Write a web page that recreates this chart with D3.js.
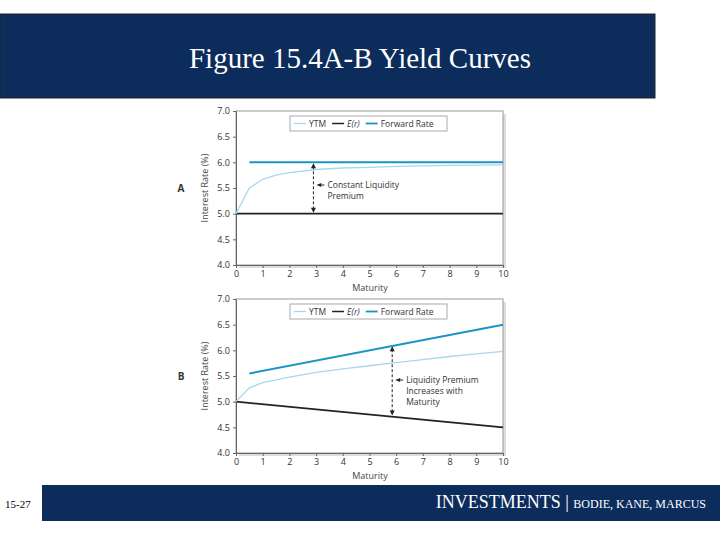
<!DOCTYPE html><html><head><meta charset="utf-8">
<script src="https://cdn.jsdelivr.net/npm/d3@7"></script>
<style>body{margin:0;background:#fff}svg{display:block}</style></head><body>
<svg id="c" width="720" height="540"></svg>
<script>
const xTicks=[0,1,2,3,4,5,6,7,8,9,10];
const yTicks=[4.0,4.5,5.0,5.5,6.0,6.5,7.0];
const aYtmX=[0,0.5,1,1.5,2,3,4,5,6,8,10];
const aYtm=[5.0,5.5,5.67,5.75,5.8,5.86,5.89,5.9,5.92,5.94,5.95];
const aFwdX=[0.5,10], aFwd=[6.0,6.0];
const aErX=[0,10], aEr=[5.0,5.0];
const bYtmX=[0,0.5,1,2,3,4,5,6,7,8,9,10];
const bYtm=[5.0,5.27,5.37,5.48,5.57,5.64,5.7,5.76,5.82,5.88,5.93,5.98];
const bFwdX=[0.5,10], bFwd=[5.55,6.5];
const bErX=[0,10], bEr=[5.0,4.5];
const svg=d3.select("#c");
svg.append("rect").attr("x",0).attr("y",14).attr("width",655).attr("height",84).attr("fill","#0c2c5c").attr("stroke","#222");
svg.append("text").attr("x",360).attr("y",68).attr("text-anchor","middle").attr("fill","#fff").attr("font-family","Liberation Serif,serif").attr("font-size",29).text("Figure 15.4A-B Yield Curves");
svg.append("rect").attr("x",42).attr("y",485).attr("width",678).attr("height",36).attr("fill","#0c2c5c");
svg.append("text").attr("x",5).attr("y",508).attr("font-family","Liberation Serif,serif").attr("font-size",11).text("15-27");
const ft=svg.append("text").attr("x",706).attr("y",508).attr("text-anchor","end").attr("fill","#fff").attr("font-family","Liberation Serif,serif");
ft.append("tspan").attr("font-size",18).text("INVESTMENTS | ");
ft.append("tspan").attr("font-size",12).text("BODIE, KANE, MARCUS");
const F="Open Sans,DejaVu Sans,sans-serif";
function panel(top,label,yx,yv,fx,fv,ex,ev,arr,ann){
  const x=d3.scaleLinear().domain([0,10]).range([236,503]);
  const y=d3.scaleLinear().domain([4,7]).range([top+154,top]);
  const g=svg.append("g");
  g.append("rect").attr("x",x(0)+3).attr("y",y(7)+3).attr("width",267).attr("height",154).attr("fill","#ddd");
  g.append("rect").attr("x",x(0)).attr("y",y(7)).attr("width",267).attr("height",154).attr("fill","#fff").attr("stroke","#999");
  g.append("g").attr("transform",`translate(0,${y(4)})`).call(d3.axisBottom(x).tickValues(xTicks).tickSize(3)).call(a=>{a.selectAll("text").attr("font-family",F).attr("font-size",9).attr("fill","#333");a.selectAll("path,line").attr("stroke","#666");});
  g.append("g").attr("transform",`translate(${x(0)},0)`).call(d3.axisLeft(y).tickValues(yTicks).tickFormat(d3.format(".1f")).tickSize(3)).call(a=>{a.selectAll("text").attr("font-family",F).attr("font-size",9).attr("fill","#333");a.selectAll("path,line").attr("stroke","#666");});
  g.append("text").attr("transform",`translate(208,${y(5.5)}) rotate(-90)`).attr("text-anchor","middle").attr("font-family",F).attr("font-size",9).attr("fill","#444").text("Interest Rate (%)");
  g.append("text").attr("x",370).attr("y",y(4)+26).attr("text-anchor","middle").attr("font-family",F).attr("font-size",9).attr("fill","#444").text("Maturity");
  g.append("text").attr("x",181).attr("y",y(5.5)+4).attr("text-anchor","middle").attr("font-family",F).attr("font-size",10).attr("font-weight","bold").attr("fill","#333").text(label);
  const ln=d3.line().x(d=>x(d[0])).y(d=>y(d[1]));
  g.append("path").attr("d",ln(d3.zip(ex,ev))).attr("stroke","#222").attr("stroke-width",1.8).attr("fill","none");
  g.append("path").attr("d",ln(d3.zip(yx,yv))).attr("stroke","#a8d8ec").attr("stroke-width",1.3).attr("fill","none");
  g.append("path").attr("d",ln(d3.zip(fx,fv))).attr("stroke","#1d93c6").attr("stroke-width",2).attr("fill","none");
  const ax=x(arr[0]), t0=y(arr[1]), b0=y(arr[2]);
  g.append("line").attr("x1",ax).attr("x2",ax).attr("y1",t0+4).attr("y2",b0-4).attr("stroke","#222").attr("stroke-dasharray","3,2");
  g.append("path").attr("d",`M${ax-2.5},${t0+6}L${ax},${t0+1}L${ax+2.5},${t0+6}Z`).attr("fill","#222");
  g.append("path").attr("d",`M${ax-2.5},${b0-6}L${ax},${b0-1}L${ax+2.5},${b0-6}Z`).attr("fill","#222");
  const ty=ann.y;
  g.append("path").attr("d",`M${ax+3},${ty}L${ax+8},${ty-2}L${ax+8},${ty+2}Z`).attr("fill","#222");
  g.append("line").attr("x1",ax+8).attr("x2",ax+11).attr("y1",ty).attr("y2",ty).attr("stroke","#222");
  ann.lines.forEach((s,i)=>g.append("text").attr("font-family",F).attr("font-size",8.5).attr("fill","#333").attr("x",ax+14).attr("y",ty+3+i*11).text(s));
  const lg=g.append("g").attr("transform",`translate(290,${y(7)+5})`);
  lg.append("rect").attr("width",157).attr("height",15).attr("fill","#fff").attr("stroke","#aaa");
  const items=[["YTM","#a8d8ec",1.3,false],["E(r)","#222",1.5,true],["Forward Rate","#1d93c6",1.8,false]];
  let cx=4;
  items.forEach(([n,c,w,it])=>{
    lg.append("line").attr("x1",cx).attr("x2",cx+12).attr("y1",7.5).attr("y2",7.5).attr("stroke",c).attr("stroke-width",w);
    const tt=lg.append("text").attr("x",cx+15).attr("y",11).attr("font-family",F).attr("font-size",8.5).attr("fill","#333").attr("font-style",it?"italic":"normal").text(n);
    cx+=15+tt.node().getComputedTextLength()+6;
  });
}
panel(111,"A",aYtmX,aYtm,aFwdX,aFwd,aErX,aEr,[2.9,6.0,5.0],{y:185,lines:["Constant Liquidity","Premium"]});
panel(299,"B",bYtmX,bYtm,bFwdX,bFwd,bErX,bEr,[5.85,6.1,4.71],{y:380,lines:["Liquidity Premium","Increases with","Maturity"]});
</script></body></html>
